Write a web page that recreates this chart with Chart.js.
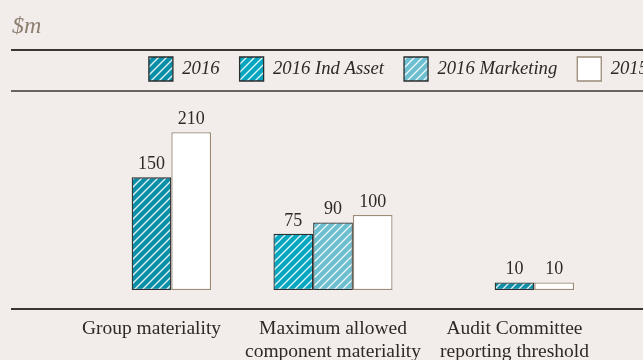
<!DOCTYPE html>
<html>
<head>
<meta charset="utf-8">
<script src="https://cdn.jsdelivr.net/npm/chart.js@4.4.1/dist/chart.umd.min.js"></script>
<style>
  html, body { margin: 0; padding: 0; background: #f2edea; overflow: hidden; }
  #wrap { width: 668px; height: 360px; position: relative; }
</style>
</head>
<body>
<div id="wrap"><canvas id="chart"></canvas></div>
<script>
// Materiality thresholds, $m
const categories = [
  'Group materiality',
  ['Maximum allowed', 'component materiality'],
  ['Audit Committee', 'reporting threshold']
];
const values2016 = [150, null, 10];
const valuesIndAsset = [null, 75, null];
const valuesMarketing = [null, 90, null];
const values2015 = [210, 100, 10];

const SERIF = '"Liberation Serif", "Times New Roman", serif';
const INK = '#2e2926';
const EDGE = '#2b2d2e';

// solid fill with thin white diagonal hatching
function hatch(base) {
  const size = 8;
  const c = document.createElement('canvas');
  c.width = size;
  c.height = size;
  const g = c.getContext('2d');
  g.fillStyle = base;
  g.fillRect(0, 0, size, size);
  g.strokeStyle = 'rgba(255, 255, 255, 0.9)';
  g.lineWidth = 1.3;
  g.beginPath();
  g.moveTo(0, size); g.lineTo(size, 0);
  g.moveTo(-size / 2, size / 2); g.lineTo(size / 2, -size / 2);
  g.moveTo(size / 2, size * 1.5); g.lineTo(size * 1.5, size / 2);
  g.stroke();
  return g.createPattern(c, 'repeat');
}

// horizontal rules above/below the legend and under the bars
const rules = {
  id: 'rules',
  afterDraw(chart) {
    const { ctx, width, legend, chartArea } = chart;
    ctx.save();
    ctx.strokeStyle = '#3b3633';
    [[legend.top + 13, 2], [legend.bottom, 1.5], [chartArea.bottom + 19, 2]].forEach(([y, w]) => {
      ctx.lineWidth = w;
      ctx.beginPath();
      ctx.moveTo(11, y);
      ctx.lineTo(width, y);
      ctx.stroke();
    });
    ctx.restore();
  }
};

// numbers above each bar
const valueLabels = {
  id: 'valueLabels',
  afterDatasetsDraw(chart) {
    const { ctx } = chart;
    ctx.save();
    ctx.font = '18px ' + SERIF;
    ctx.fillStyle = INK;
    ctx.textAlign = 'center';
    ctx.textBaseline = 'alphabetic';
    chart.data.datasets.forEach((ds, i) => {
      chart.getDatasetMeta(i).data.forEach((bar, j) => {
        const v = ds.data[j];
        if (v == null) return;
        ctx.fillText(String(v), bar.x, bar.y - 8);
      });
    });
    ctx.restore();
  }
};

const hiddenAxis = (width, position) => ({
  position,
  grid: { display: false, drawTicks: false },
  border: { display: false },
  ticks: { display: false },
  afterFit: s => { s.width = width; }
});

new Chart(document.getElementById('chart'), {
  type: 'bar',
  data: {
    labels: categories,
    datasets: [
      // "stack" puts 2016 and 2016 Marketing in the same slot; "order" sets slot order
      { label: '2016', data: values2016, backgroundColor: hatch('#0b8ea7'), borderColor: EDGE, stack: 'mid', order: 1 },
      { label: '2016 Ind Asset', data: valuesIndAsset, backgroundColor: hatch('#05a6c0'), borderColor: EDGE, stack: 'left', order: 0 },
      { label: '2016 Marketing', data: valuesMarketing, backgroundColor: hatch('#6bbfd1'), borderColor: EDGE, stack: 'mid', order: 2 },
      { label: '2015', data: values2015, backgroundColor: '#ffffff', borderColor: '#9b8b77', stack: 'right', order: 3 }
    ]
  },
  options: {
    responsive: true,
    maintainAspectRatio: false,
    animation: false,
    datasets: {
      bar: { categoryPercentage: 0.656, barPercentage: 1, borderWidth: 1.3, borderSkipped: false }
    },
    layout: { padding: { left: 12, right: 0, top: 0, bottom: 0 } },
    plugins: {
      title: {
        display: true,
        text: '$m',
        align: 'start',
        color: '#8c7e70',
        font: { family: SERIF, size: 24, style: 'italic', weight: 'normal', lineHeight: 0.85 },
        padding: { top: 16.6, bottom: 0 }
      },
      legend: {
        position: 'top',
        align: 'end',
        labels: {
          boxWidth: 24,
          boxHeight: 24,
          padding: 20,
          color: INK,
          font: { family: SERIF, size: 18.7, style: 'italic' },
          sort: (a, b) => a.datasetIndex - b.datasetIndex
        }
      },
      tooltip: { enabled: false }
    },
    scales: {
      x: {
        stacked: true,
        grid: { display: false, drawTicks: false },
        border: { display: false },
        ticks: {
          color: INK,
          font: { family: SERIF, size: 19.5, lineHeight: 1.165 },
          padding: 27.6,
          maxRotation: 0,
          autoSkip: false
        },
        afterFit: s => { s.height = 70; }
      },
      y: Object.assign(hiddenAxis(48.75, 'left'), { min: 0, max: 265 }),
      yPad: hiddenAxis(62.75, 'right')
    }
  },
  plugins: [rules, valueLabels]
});
</script>
</body>
</html>
